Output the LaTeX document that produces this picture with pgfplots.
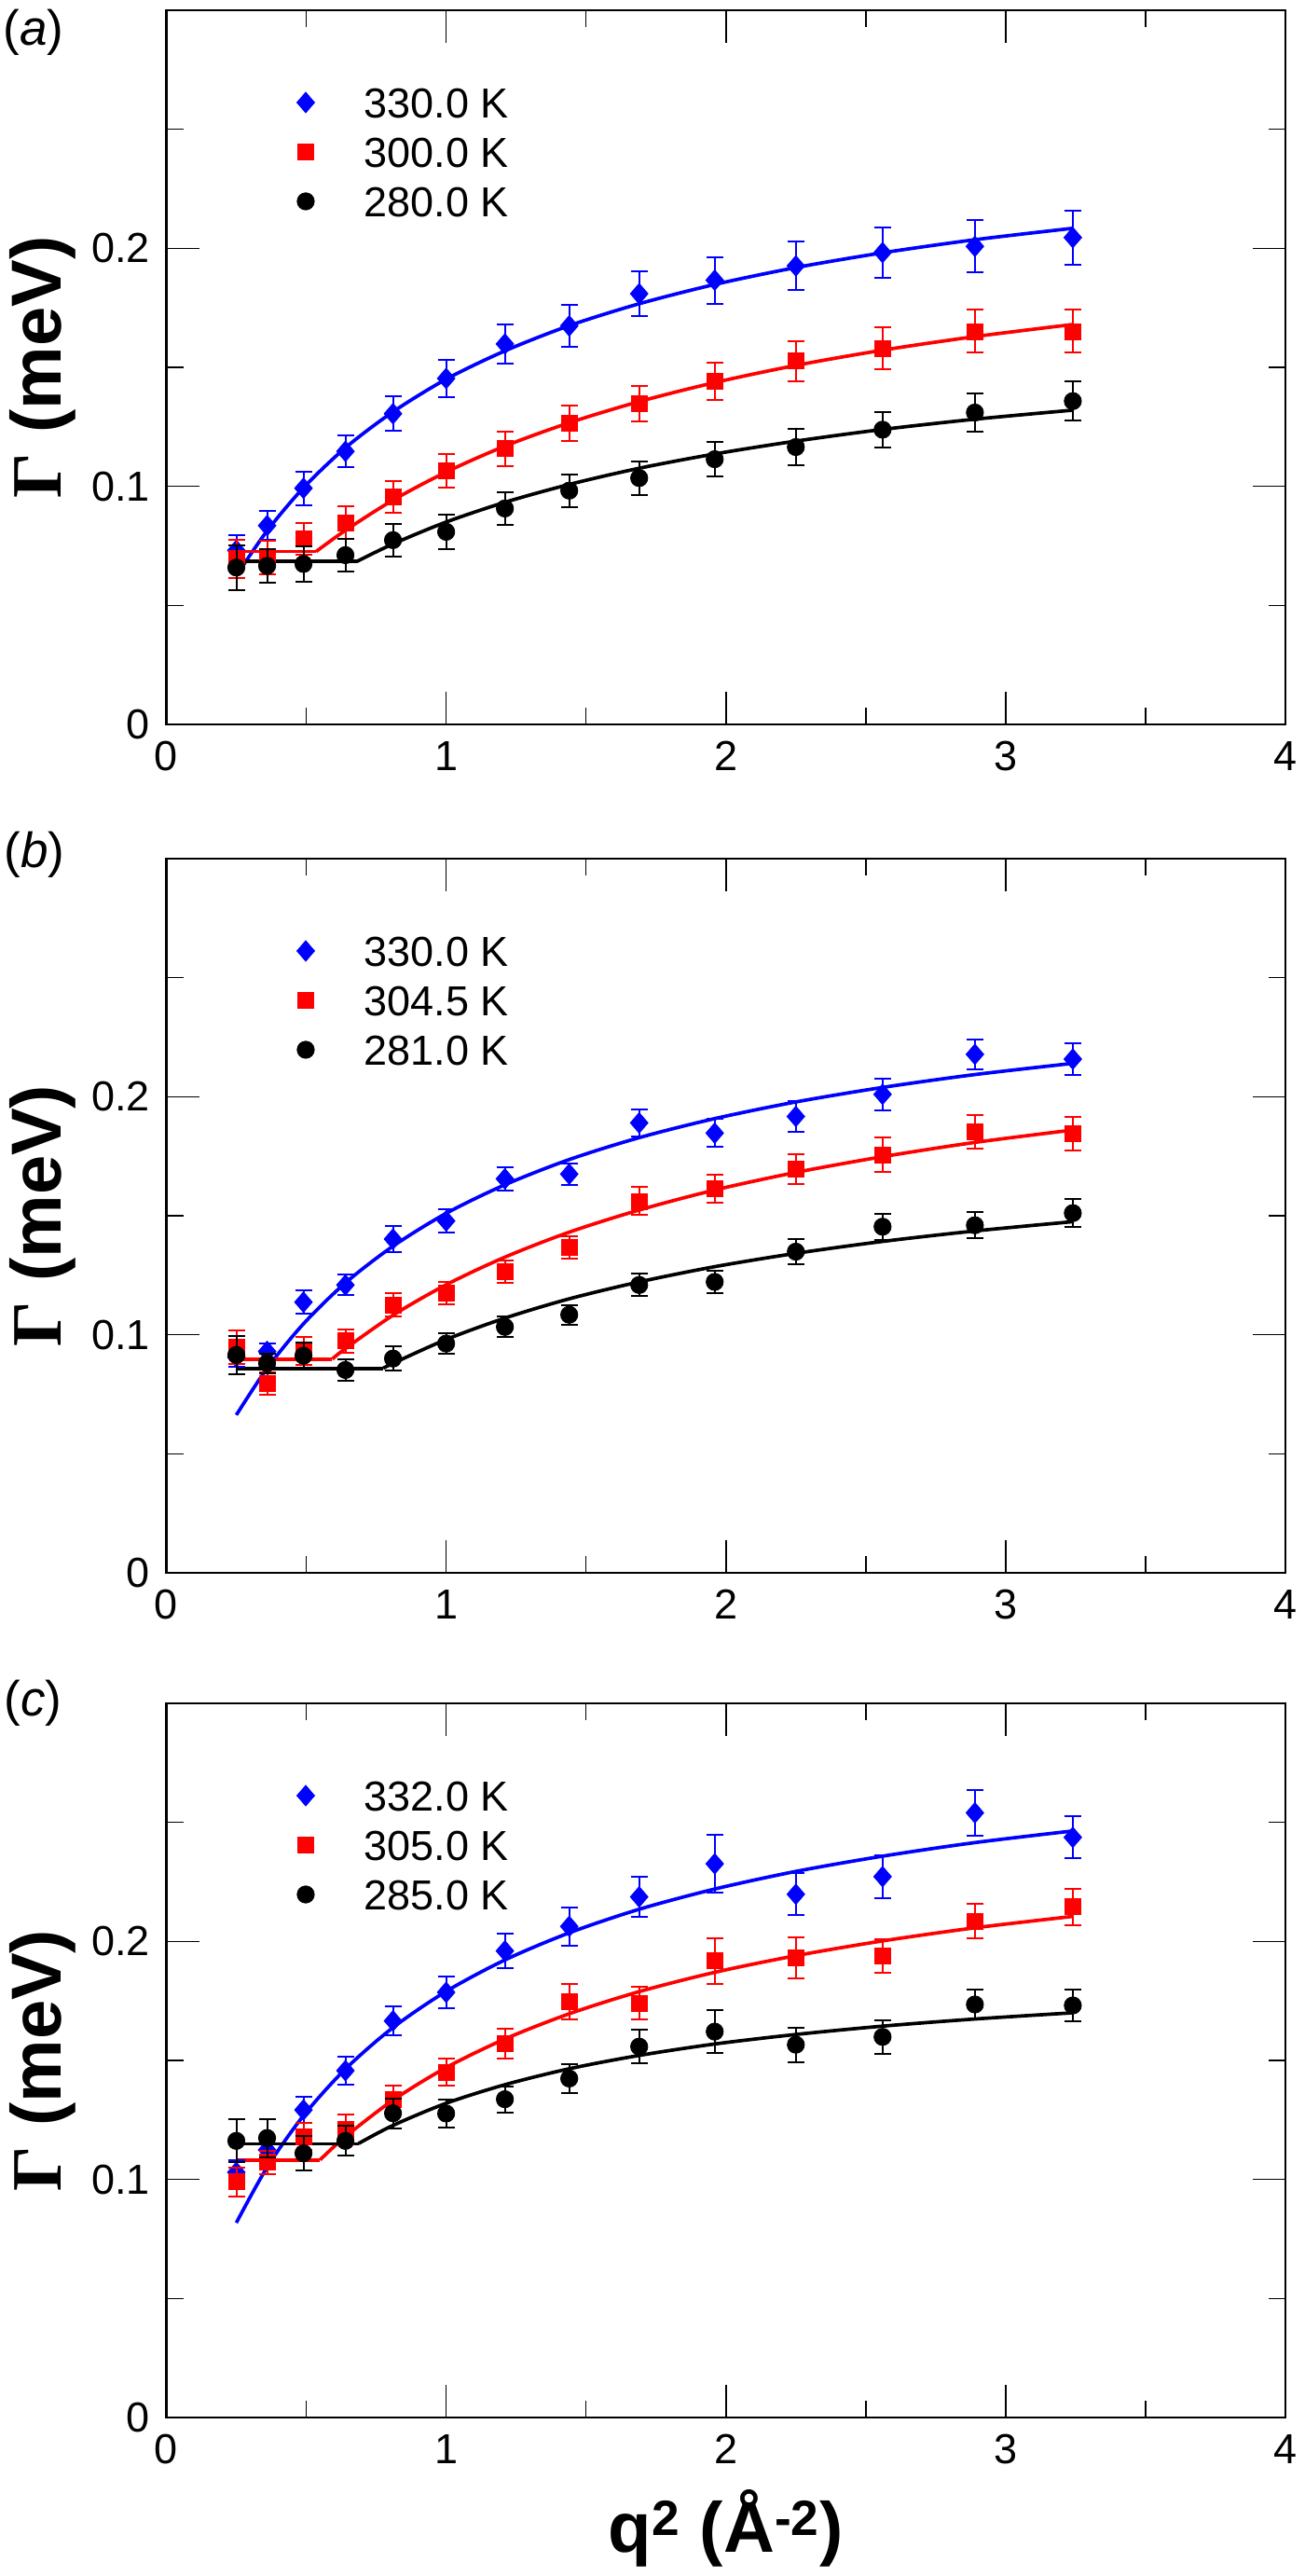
\documentclass[border=0pt]{standalone}
\usepackage{fontspec}
\setmainfont{Liberation Sans}
\newfontfamily\seriffont{Liberation Serif}
\usepackage{pgfplots}
\pgfplotsset{compat=1.18}
\usepackage{pgfplotstable}

\definecolor{cblue}{RGB}{0,0,255}
\definecolor{cred}{RGB}{255,0,0}

\pgfplotsset{
  panel/.style={
    scale only axis, width=600.25pt, height=383pt,
    xmin=0, xmax=4, ymin=0, ymax=0.3,
    clip mode=individual,
    xtick={0,1,2,3,4}, minor xtick={0.5,1.5,2.5,3.5},
    ytick={0,0.1,0.2}, minor ytick={0.05,0.15,0.25},
    tick align=inside, major tick length=17.5pt, minor tick length=9pt,
    every tick/.style={black, line width=0.8pt},
    axis line style={line width=1.3pt},
    /pgf/number format/assume math mode=true,
    tick label style={font=\fontsize{22.5}{27}\selectfont, inner sep=0pt},
    xticklabel style={yshift=-9pt},
    yticklabel style={xshift=-8.75pt},
    ylabel={\textbf{{\seriffont Γ} (meV)}},
    ylabel style={at={(axis description cs:-0.1108,0.5)}, anchor=center, rotate=0,
      font=\fontsize{38}{44}\selectfont\bfseries},
    legend cell align=left,
    legend style={draw=none, fill=none, at={(axis description cs:0,1)}, anchor=north west,
      xshift=70pt, yshift=-41.45pt, inner sep=0pt, outer sep=0pt,
      row sep=10.4pt, column sep=26.5pt, font=\fontsize{22.5}{27}\selectfont,
      nodes={inner sep=0pt, text height=16.1pt, text depth=0pt}},
    legend image code/.code={\draw[##1] plot coordinates {(0pt,0pt)};},
  },
  ebar/.style={error bars/.cd, y dir=both, y explicit,
    error bar style={line width=1pt},
    error mark options={rotate=90, mark size=4.5pt, line width=1pt}},
  bser/.style={only marks, color=cblue, mark=diamond*, mark size=5.5pt,
    mark options={xscale=1.15, solid, fill=cblue}, ebar},
  rser/.style={only marks, color=cred, mark=square*, mark size=4.25pt,
    mark options={solid, fill=cred}, ebar},
  kser/.style={only marks, color=black, mark=*, mark size=4.6pt,
    mark options={solid, fill=black}, ebar},
  bline/.style={cblue, line width=1.85pt, smooth, no marks, forget plot},
  rline/.style={cred, line width=1.85pt, smooth, no marks, forget plot},
  kline/.style={black, line width=1.85pt, smooth, no marks, forget plot},
}

\begin{document}
\begin{tikzpicture}
\useasboundingbox (0pt,0pt) rectangle (700pt,1381.5pt);

% ---------------- panel (a) ----------------
\begin{axis}[panel, at={(89.25pt,993pt)}, anchor=south west]
\addplot[bline] coordinates {(0.25,0.0625)(0.36,0.0813)(0.49,0.0994)(0.64,0.1162)(0.81,0.1313)(1.0,0.1450)(1.21,0.1569)(1.44,0.1675)(1.69,0.1767)(1.96,0.1848)(2.25,0.1919)(2.56,0.1981)(2.89,0.2036)(3.24,0.2084)};
\addplot[rline] coordinates {(0.25,0.0726)(0.535,0.0726)};
\addplot[rline] coordinates {(0.535,0.0726)(0.64,0.0815)(0.81,0.0942)(1.0,0.1060)(1.21,0.1169)(1.44,0.1267)(1.69,0.1356)(1.96,0.1436)(2.25,0.1508)(2.56,0.1572)(2.89,0.1629)(3.24,0.1680)};
\addplot[kline] coordinates {(0.25,0.0684)(0.68,0.0684)};
\addplot[kline] coordinates {(0.68,0.0684)(0.81,0.0758)(1.0,0.0850)(1.21,0.0933)(1.44,0.1008)(1.69,0.1076)(1.96,0.1136)(2.25,0.1190)(2.56,0.1239)(2.89,0.1282)(3.24,0.1320)};
\addplot[bser] table[x=x,y=y,y error=e] {
x y e
0.25 0.0731 0.0065
0.36 0.0835 0.0060
0.49 0.0992 0.0070
0.64 0.1147 0.0068
0.81 0.1305 0.0072
1.00 0.1453 0.0079
1.21 0.1598 0.0084
1.44 0.1674 0.0088
1.69 0.1809 0.0094
1.96 0.1866 0.0098
2.25 0.1926 0.0102
2.56 0.1982 0.0107
2.89 0.2008 0.0110
3.24 0.2045 0.0114
};
\addlegendentry{330.0 K}
\addplot[rser] table[x=x,y=y,y error=e] {
x y e
0.25 0.0696 0.0080
0.36 0.0701 0.0070
0.49 0.0779 0.0068
0.64 0.0847 0.0068
0.81 0.0956 0.0068
1.00 0.1065 0.0069
1.21 0.1158 0.0073
1.44 0.1265 0.0075
1.69 0.1346 0.0075
1.96 0.1441 0.0080
2.25 0.1526 0.0084
2.56 0.1579 0.0088
2.89 0.1651 0.0090
3.24 0.1651 0.0090
};
\addlegendentry{300.0 K}
\addplot[kser] table[x=x,y=y,y error=e] {
x y e
0.25 0.0659 0.0094
0.36 0.0666 0.0071
0.49 0.0674 0.0075
0.64 0.0711 0.0070
0.81 0.0774 0.0068
1.00 0.0809 0.0071
1.21 0.0907 0.0069
1.44 0.0982 0.0069
1.69 0.1035 0.0071
1.96 0.1114 0.0073
2.25 0.1165 0.0075
2.56 0.1238 0.0075
2.89 0.1310 0.0080
3.24 0.1358 0.0083
};
\addlegendentry{280.0 K}
\node[anchor=north west, inner sep=0pt, font=\fontsize{26.5}{30}\selectfont] at (axis description cs:-0.1462,1.0013) {(\textit{a})};
\end{axis}

% ---------------- panel (b) ----------------
\begin{axis}[panel, at={(89.25pt,538pt)}, anchor=south west]
\addplot[bline] coordinates {(0.25,0.0663)(0.36,0.0859)(0.49,0.1046)(0.64,0.1218)(0.81,0.1372)(1.0,0.1510)(1.21,0.1630)(1.44,0.1736)(1.69,0.1828)(1.96,0.1908)(2.25,0.1978)(2.56,0.2039)(2.89,0.2093)(3.24,0.2140)};
\addplot[rline] coordinates {(0.25,0.0898)(0.593,0.0898)};
\addplot[rline] coordinates {(0.593,0.0898)(0.64,0.0942)(0.81,0.1082)(1.0,0.1210)(1.21,0.1326)(1.44,0.1431)(1.69,0.1524)(1.96,0.1608)(2.25,0.1682)(2.56,0.1748)(2.89,0.1808)(3.24,0.1860)};
\addplot[kline] coordinates {(0.25,0.0859)(0.775,0.0859)};
\addplot[kline] coordinates {(0.775,0.0859)(0.81,0.0880)(1.0,0.0980)(1.21,0.1070)(1.44,0.1151)(1.69,0.1222)(1.96,0.1286)(2.25,0.1342)(2.56,0.1392)(2.89,0.1436)(3.24,0.1475)};
\addplot[bser] table[x=x,y=y,y error=e] {
x y e
0.25 0.0907 0.0043
0.36 0.0930 0.0032
0.49 0.1137 0.0048
0.64 0.1209 0.0043
0.81 0.1402 0.0054
1.00 0.1478 0.0048
1.21 0.1655 0.0050
1.44 0.1675 0.0045
1.69 0.1890 0.0057
1.96 0.1847 0.0059
2.25 0.1917 0.0063
2.56 0.2010 0.0066
2.89 0.2178 0.0063
3.24 0.2158 0.0067
};
\addlegendentry{330.0 K}
\addplot[rser] table[x=x,y=y,y error=e] {
x y e
0.25 0.0949 0.0070
0.36 0.0794 0.0047
0.49 0.0932 0.0057
0.64 0.0974 0.0048
0.81 0.1126 0.0050
1.00 0.1174 0.0046
1.21 0.1264 0.0047
1.44 0.1367 0.0048
1.69 0.1561 0.0059
1.96 0.1613 0.0059
2.25 0.1695 0.0062
2.56 0.1755 0.0072
2.89 0.1852 0.0072
3.24 0.1845 0.0071
};
\addlegendentry{304.5 K}
\addplot[kser] table[x=x,y=y,y error=e] {
x y e
0.25 0.0915 0.0080
0.36 0.0880 0.0040
0.49 0.0912 0.0055
0.64 0.0852 0.0045
0.81 0.0900 0.0052
1.00 0.0963 0.0043
1.21 0.1033 0.0043
1.44 0.1084 0.0041
1.69 0.1209 0.0047
1.96 0.1222 0.0048
2.25 0.1349 0.0053
2.56 0.1454 0.0054
2.89 0.1460 0.0055
3.24 0.1511 0.0058
};
\addlegendentry{281.0 K}
\node[anchor=north west, inner sep=0pt, font=\fontsize{26.5}{30}\selectfont] at (axis description cs:-0.145,1.0379) {(\textit{b})};
\end{axis}

% ---------------- panel (c) ----------------
\begin{axis}[panel, at={(89.25pt,85pt)}, anchor=south west,
  xlabel={\textbf{q\textsuperscript{2} (Å\textsuperscript{-2})}},
  xlabel style={at={(axis description cs:0.5,-0.1554)}, anchor=center,
    font=\fontsize{38}{44}\selectfont\bfseries}]
\addplot[bline] coordinates {(0.25,0.0818)(0.36,0.1051)(0.49,0.1268)(0.64,0.1464)(0.81,0.1638)(1.0,0.1790)(1.21,0.1922)(1.44,0.2036)(1.69,0.2135)(1.96,0.2220)(2.25,0.2294)(2.56,0.2358)(2.89,0.2415)(3.24,0.2464)};
\addplot[rline] coordinates {(0.25,0.1082)(0.549,0.1082)};
\addplot[rline] coordinates {(0.549,0.1082)(0.64,0.1180)(0.81,0.1333)(1.0,0.1470)(1.21,0.1590)(1.44,0.1696)(1.69,0.1789)(1.96,0.1870)(2.25,0.1940)(2.56,0.2002)(2.89,0.2057)(3.24,0.2105)};
\addplot[kline] coordinates {(0.25,0.1150)(0.687,0.1150)};
\addplot[kline] coordinates {(0.687,0.1151)(0.81,0.1227)(1.0,0.1320)(1.21,0.1398)(1.44,0.1465)(1.69,0.1521)(1.96,0.1569)(2.25,0.1609)(2.56,0.1644)(2.89,0.1674)(3.24,0.1700)};
\addplot[bser] table[x=x,y=y,y error=e] {
x y e
0.25 0.1030 0.0049
0.36 0.1124 0.0050
0.49 0.1292 0.0055
0.64 0.1457 0.0060
0.81 0.1666 0.0062
1.00 0.1786 0.0067
1.21 0.1960 0.0071
1.44 0.2063 0.0081
1.69 0.2187 0.0084
1.96 0.2326 0.0120
2.25 0.2198 0.0088
2.56 0.2272 0.0090
2.89 0.2540 0.0095
3.24 0.2437 0.0088
};
\addlegendentry{332.0 K}
\addplot[rser] table[x=x,y=y,y error=e] {
x y e
0.25 0.0990 0.0060
0.36 0.1072 0.0049
0.49 0.1180 0.0056
0.64 0.1211 0.0062
0.81 0.1334 0.0060
1.00 0.1451 0.0056
1.21 0.1570 0.0062
1.44 0.1746 0.0075
1.69 0.1741 0.0068
1.96 0.1918 0.0095
2.25 0.1930 0.0085
2.56 0.1940 0.0071
2.89 0.2085 0.0073
3.24 0.2145 0.0076
};
\addlegendentry{305.0 K}
\addplot[kser] table[x=x,y=y,y error=e] {
x y e
0.25 0.1162 0.0090
0.36 0.1174 0.0080
0.49 0.1110 0.0073
0.64 0.1162 0.0062
0.81 0.1278 0.0062
1.00 0.1277 0.0058
1.21 0.1337 0.0055
1.44 0.1424 0.0061
1.69 0.1558 0.0070
1.96 0.1621 0.0091
2.25 0.1566 0.0073
2.56 0.1599 0.0071
2.89 0.1735 0.0062
3.24 0.1731 0.0066
};
\addlegendentry{285.0 K}
\node[anchor=north west, inner sep=0pt, font=\fontsize{26.5}{30}\selectfont] at (axis description cs:-0.145,1.0326) {(\textit{c})};
\end{axis}
\end{tikzpicture}
\end{document}
